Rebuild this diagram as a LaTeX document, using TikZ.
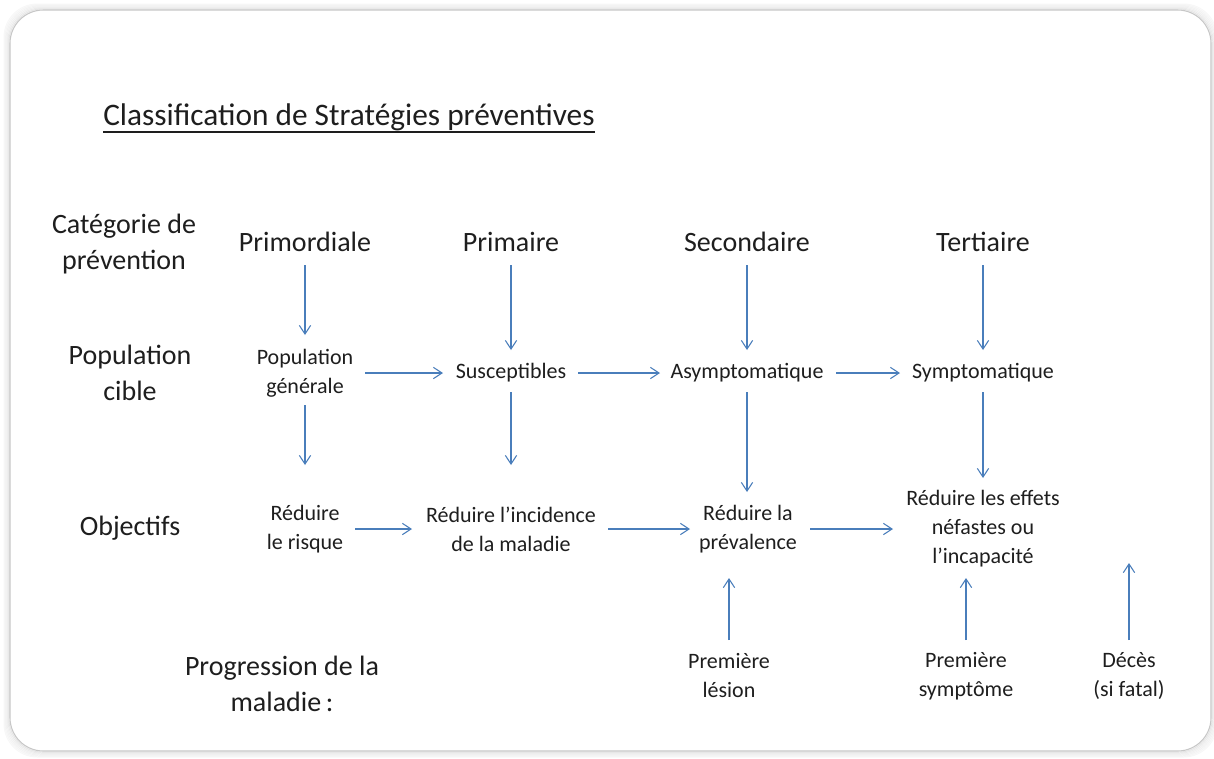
\documentclass[tikz,border=0pt]{standalone}
\usepackage{fontspec}
\setmainfont{Carlito}
\usetikzlibrary{arrows.meta}
\definecolor{arrblue}{HTML}{4A7EBB}
\definecolor{txtc}{HTML}{1E1E1E}
\tikzset{
  arr/.style={draw=arrblue, line width=0.8pt, -{Straight Barb[length=6.5pt,width=8.5pt]}},
  small/.style={font=\fontsize{16.5}{21.75}\selectfont, align=center, inner sep=0pt, text=txtc},
  big/.style={font=\fontsize{21}{27.3}\selectfont, align=center, inner sep=0pt, text=txtc},
  ttl/.style={font=\fontsize{23.5}{28}\selectfont, inner sep=0pt, text=txtc},
}
\begin{document}
\begin{tikzpicture}[x=0.75pt,y=-0.75pt]
\useasboundingbox (0,0) rectangle (1214,758);
\fill[white] (0,0) rectangle (1214,758);
% shadow
\foreach \i/\o in {6/0.03,5/0.04,4/0.05,3/0.06,2/0.08,1/0.10}{
  \draw[black, opacity=\o, line width=0.75pt, rounded corners=25] (10-\i,10-\i) rectangle (1211+\i,751+\i);
}
\draw[fill=white, draw=black!22, line width=0.8pt, rounded corners=25] (10,10) rectangle (1211,751);

% title
\node[ttl, anchor=base west] (title) at (103,125) {Classification de Stratégies préventives};
\draw[txtc, line width=1.5pt] ([yshift=-5pt]title.base west) -- ([yshift=-5pt]title.base east);

% row headings
\node[big] (rh1) at (124,244) {Catégorie de\\prévention};
\node[big] (rh2) at (130,373) {Population\\cible};
\node[big] (rh3) at (130,528) {Objectifs};
\node[big] (rh4) at (282,684) {Progression de la\\maladie\,:};

% column heads
\node[big] (h1) at (305,242) {Primordiale};
\node[big] (h2) at (511,242) {Primaire};
\node[big] (h3) at (747,242) {Secondaire};
\node[big] (h4) at (983,242) {Tertiaire};

% population
\node[small] (p1) at (305,373) {Population\\générale};
\node[small] (p2) at (511,373) {Susceptibles};
\node[small] (p3) at (747,373) {Asymptomatique};
\node[small] (p4) at (983,373) {Symptomatique};

% objectifs
\node[small] (o1) at (305,529) {Réduire\\le risque};
\node[small] (o2) at (511,529) {Réduire l’incidence\\de la maladie};
\node[small] (o3) at (748,529) {Réduire la\\prévalence};
\node[small] (o4) at (983,529) {Réduire les effets\\néfastes ou\\l’incapacité};

% progression
\node[small] (g1) at (729,676) {Première\\lésion};
\node[small] (g2) at (966,676) {Première\\symptôme};
\node[small] (g3) at (1129,676) {Décès\\(si fatal)};

% heads -> population
\draw[arr] (h1 |- 0,265) -- (h1 |- 0,335);
\draw[arr] (h2 |- 0,265) -- (h2 |- 0,350);
\draw[arr] (h3 |- 0,265) -- (h3 |- 0,350);
\draw[arr] (h4 |- 0,265) -- (h4 |- 0,350);

% population horizontal
\draw[arr] (p1 -| 365,0) -- (p2 -| 443,0);
\draw[arr] (p2 -| 578,0) -- (p3 -| 660,0);
\draw[arr] (p3 -| 836,0) -- (p4 -| 900,0);

% population -> objectifs
\draw[arr] (p1 |- 0,405) -- (p1 |- 0,465);
\draw[arr] (p2 |- 0,392) -- (p2 |- 0,465);
\draw[arr] (p3 |- 0,392) -- (p3 |- 0,492);
\draw[arr] (p4 |- 0,392) -- (p4 |- 0,478);

% objectifs horizontal
\draw[arr] (o1 -| 355,0) -- (o2 -| 412,0);
\draw[arr] (o2 -| 608,0) -- (o3 -| 690,0);
\draw[arr] (o3 -| 810,0) -- (o4 -| 893,0);

% progression up
\draw[arr] (g1 |- 0,640) -- (g1 |- 0,578);
\draw[arr] (g2 |- 0,640) -- (g2 |- 0,578);
\draw[arr] (g3 |- 0,640) -- (g3 |- 0,563);
\end{tikzpicture}
\end{document}
